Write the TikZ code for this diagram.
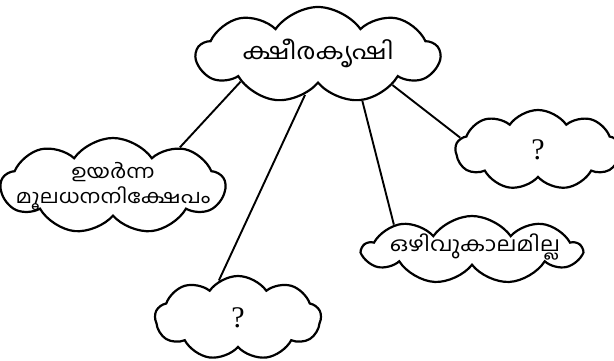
\documentclass[tikz,border=0pt]{standalone}
\usepackage{fontspec}
\newfontfamily\malfont[Script=Malayalam, FakeStretch=1.15]{Hind Kochi}
\newfontfamily\qfont{Liberation Serif}
\usetikzlibrary{shapes.symbols, positioning}

\begin{document}
\begin{tikzpicture}[x=1pt, y=-1pt,
          kuppi/.style={cloud, draw, line width=2.2pt, cloud puffs=9,
            cloud puff arc=110, cloud ignores aspect, inner sep=0pt},
          ezhuth/.style={align=center, inner sep=0pt, font=\malfont\fontsize{#1}{25}\selectfont},
          chodyam/.style={inner sep=0pt, font=\qfont\fontsize{30}{32}\selectfont},
          varaa/.style={line width=1.9pt}]
  \useasboundingbox (0,0) rectangle (614,361);

  \node[kuppi, minimum width=243pt, minimum height=96pt] (main) at (318,55) {};
  \node[ezhuth=22.5] (mainTxt) at ([yshift=2pt]main.center) {ക്ഷീരകൃഷി};
  \node[kuppi, minimum width=224pt, minimum height=96pt] (moola) at (113,186) {};
  \node[ezhuth=19] (moolaTxt) at (moola.center) {ഉയർന്ന\\മൂലധനനിക്ഷേപം};
  \node[kuppi, minimum width=165pt, minimum height=80pt] (chodyam1) at (538,150) {};
  \node[chodyam] (q1) at (chodyam1.center) {?};
  \node[kuppi, minimum width=218pt, minimum height=68pt] (ozhivu) at (472,250) {};
  \node[ezhuth=20] (ozhivuTxt) at ([xshift=3pt,yshift=3pt]ozhivu.center) {ഒഴിവുകാലമില്ല};
  \node[kuppi, minimum width=166pt, minimum height=84pt] (chodyam2) at (238,318) {};
  \node[chodyam] (q2) at (chodyam2.center) {?};

  \draw[varaa] (main.-161) -- (moola.30);
  \draw[varaa] (main.-108) -- (chodyam2.117);
  \draw[varaa] (main.-46) -- (ozhivu.162);
  \draw[varaa] (main.-22) -- (chodyam1.171);
\end{tikzpicture}
\end{document}
